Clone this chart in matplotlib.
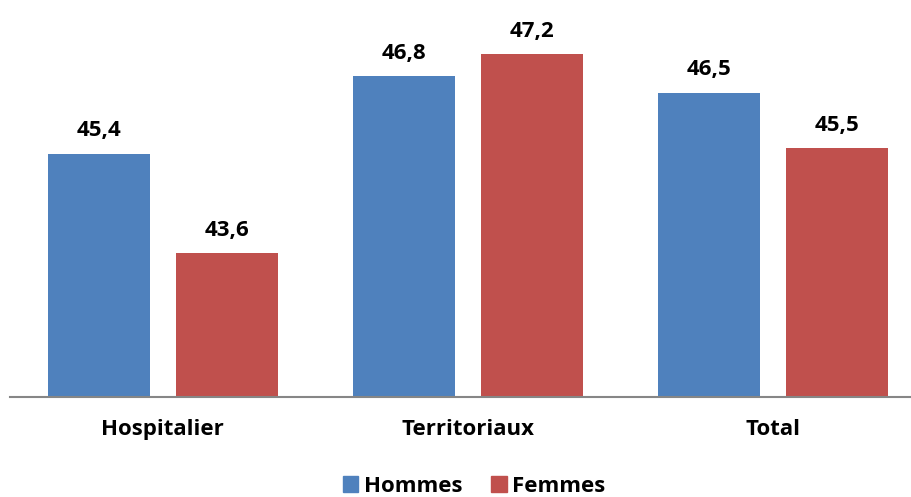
import numpy as np
import matplotlib.pyplot as plt
from matplotlib.patches import Patch

categories = ["Hospitalier", "Territoriaux", "Total"]
hommes = [45.4, 46.8, 46.5]
femmes = [43.6, 47.2, 45.5]
value_labels_h = ["45,4", "46,8", "46,5"]
value_labels_f = ["43,6", "47,2", "45,5"]

BLUE = "#4F81BD"
RED = "#C0504D"

plt.rcParams['font.family'] = ['Open Sans', 'DejaVu Sans']

W, H = 911, 497
fig = plt.figure(figsize=(W / 100, H / 100), dpi=100)
ax = fig.add_axes([10 / W, (H - 397) / H, (W - 10) / W, 387 / H])

x = np.arange(len(categories))
bw = 0.334
off = 0.2095
ax.bar(x - off, hommes, bw, color=BLUE, label="Hommes")
ax.bar(x + off, femmes, bw, color=RED, label="Femmes")

# value labels above each bar
for xi, v, t in zip(x, hommes, value_labels_h):
    ax.text(xi - off, v + 0.32, t, ha="center", va="baseline",
            fontsize=16, fontweight="bold")
for xi, v, t in zip(x, femmes, value_labels_f):
    ax.text(xi + off, v + 0.32, t, ha="center", va="baseline",
            fontsize=16, fontweight="bold")

ax.set_ylim(41, 48)
ax.set_xlim(-0.5, 2.452)
ax.set_yticks([])
ax.set_xticks(x)
ax.set_xticklabels(categories, fontsize=16, fontweight="bold")
ax.tick_params(axis="x", length=0, pad=16)
for s in ["top", "right", "left"]:
    ax.spines[s].set_visible(False)
ax.spines["bottom"].set_color("#868686")
ax.spines["bottom"].set_linewidth(1.5)

handles = [Patch(color=BLUE, label="Hommes"), Patch(color=RED, label="Femmes")]
fig.legend(handles=handles, loc="center", bbox_to_anchor=(474 / W, 1 - 486 / H),
           ncol=2, frameon=False, prop={"size": 16, "weight": "bold"},
           handlelength=0.7, handleheight=0.7, handletextpad=0.25,
           columnspacing=1.3)

fig.savefig("out.png", dpi=100)
